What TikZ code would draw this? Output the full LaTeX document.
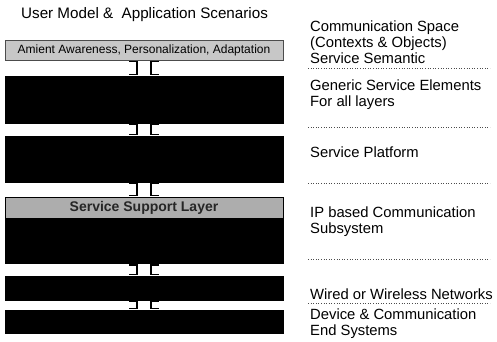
\documentclass[tikz,border=0pt]{standalone}
\usepackage{fontspec}
\setmainfont{Liberation Sans}
\usetikzlibrary{positioning}
\usetikzlibrary{calc}

\tikzset{
  layer/.style = {draw = black, fill = black, inner sep = 0pt, minimum width = 278pt},
  shade/.style = {draw = black!70, fill = black!22, inner sep = 0pt, minimum width = 278pt},
  link/.style = {black, line width = 1.3pt},
  sep/.style = {black!70, dotted, line width = 0.6pt},
  label/.style = {anchor = west, align = left, inner sep = 0pt,
    font = \fontsize{14.8}{16}\selectfont}
}

\begin{document}
\begin{tikzpicture}[x = 1pt, y = -1pt]
  \useasboundingbox (0, 0) rectangle (497, 341);
  % left column
  \node [anchor = west, inner sep = 0pt, font = \fontsize{15.2}{16}\selectfont] (scenarios) at (21, 15) {User Model \& \ Application Scenarios};
  \node [shade, minimum height = 20pt, font = \fontsize{12}{12}\selectfont] (ambient) at (144, 50) {Amient Awareness, Personalization, Adaptation};
  \node [layer, minimum height = 47pt] (elements) at (144, 99.5) {};
  \node [layer, minimum height = 46pt] (platform) at (144, 159) {};
  \node [shade, fill = black!32, draw = black, minimum height = 21pt, text = black!85, font = \bfseries\fontsize{14}{14}\selectfont] (support) at (144, 207.5) {Service Support Layer};
  \node [layer, minimum height = 45pt, below = 0pt of support] (subsystem) {};
  \node [layer, minimum height = 24pt] (networks) at (144, 288) {};
  \node [layer, minimum height = 23pt] (devices) at (144, 321.5) {};
  % connectors between layers
  \foreach \uppr/\lowr in {ambient/elements, elements/platform, platform/support, subsystem/networks, networks/devices} {
    \draw [link] ($(\uppr.south) + (-15, 1.5)$) -- ($(\uppr.south) + (-7, 1.5)$) -- ($(\lowr.north) + (-7, -1.5)$) -- ($(\lowr.north) + (-15, -1.5)$);
    \draw [link] ($(\uppr.south) + (15, 1.5)$) -- ($(\uppr.south) + (7, 1.5)$) -- ($(\lowr.north) + (7, -1.5)$) -- ($(\lowr.north) + (15, -1.5)$);
  }
  % right column
  \node [label] (space) at (310, 42) {Communication Space\\(Contexts \& Objects)\\Service Semantic};
  \node [label] (generic) at (310, 94.5) {Generic Service Elements\\For all layers};
  \node [label] (service) at (310, 152) {Service Platform};
  \node [label] (ipbased) at (310, 221.5) {IP based Communication\\Subsystem};
  \node [label] (wired) at (310, 294) {Wired or Wireless Networks};
  \node [label] (device) at (310, 324) {Device \& Communication\\End Systems};
  \foreach \y in {68, 127, 183, 259, 303}
    \draw [sep] (308, \y) -- (490, \y);
\end{tikzpicture}
\end{document}
